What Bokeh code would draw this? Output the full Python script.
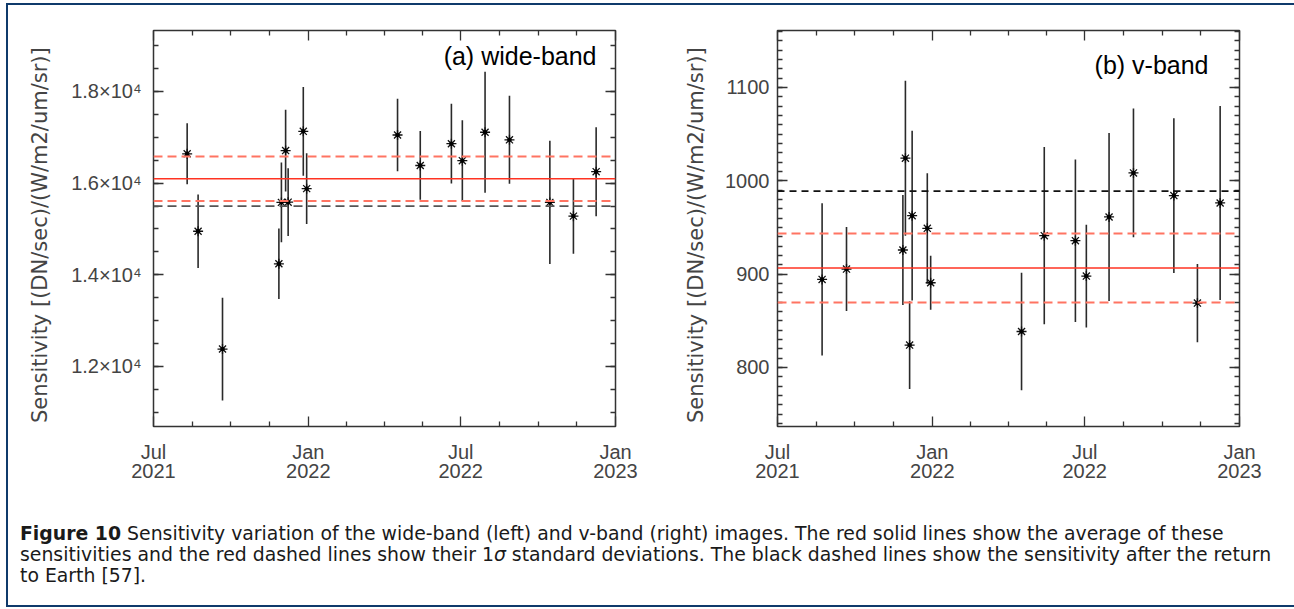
import numpy as np
import pandas as pd
from bokeh.plotting import figure
from bokeh.models import (FixedTicker, DatetimeTickFormatter, LinearAxis, DatetimeAxis,
                          Span, Label, Div, Range1d, CustomJSTickFormatter,
                          ColumnDataSource, Spacer)
from bokeh.layouts import row, column
from bokeh.embed import file_html
from bokeh.resources import INLINE

# ---------------- data ----------------
wide_dates = ["2021-08-10", "2021-08-23", "2021-09-21", "2021-11-27", "2021-11-30",
              "2021-12-05", "2021-12-08", "2021-12-26", "2021-12-30", "2022-04-17",
              "2022-05-14", "2022-06-20", "2022-07-03", "2022-07-30", "2022-08-28",
              "2022-10-15", "2022-11-12", "2022-12-09"]
wide_values = [16640, 14950, 12380, 14240, 15580, 16710, 15585, 17130, 15880, 17050,
               16385, 16860, 16490, 17110, 16945, 15580, 15280, 16250]
wide_errors = [665, 800, 1120, 770, 870, 890, 740, 970, 770, 790,
               750, 870, 880, 1320, 960, 1345, 820, 970]
wide_mean = 16095
wide_sigma = 487
wide_return = 15500

vband_dates = ["2021-08-23", "2021-09-21", "2021-11-27", "2021-11-30", "2021-12-05",
               "2021-12-08", "2021-12-26", "2021-12-30", "2022-04-17", "2022-05-14",
               "2022-06-20", "2022-07-03", "2022-07-30", "2022-08-28", "2022-10-15",
               "2022-11-12", "2022-12-09"]
vband_values = [894.3, 905.4, 925.8, 1024.2, 823.9, 962.6, 949.0, 890.7, 838.5, 941.2,
                935.8, 897.9, 961.2, 1008.4, 984.1, 868.9, 976.2]
vband_errors = [81.5, 45, 59, 83, 47, 91, 59, 29, 63, 95, 87, 55, 90, 69, 83, 42, 104]
vband_mean = 906.5
vband_sigma = 37.0
vband_return = 989

x_tick_dates = ["2021-07-01", "2022-01-01", "2022-07-01", "2023-01-01"]
wide_ticks = [12000, 14000, 16000, 18000]
wide_tick_labels = ["1.2×10⁴", "1.4×10⁴", "1.6×10⁴", "1.8×10⁴"]
vband_ticks = [800, 900, 1000, 1100]
vband_tick_labels = ["800", "900", "1000", "1100"]

y_label = "Sensitivity   [(DN/sec)/(W/m2/um/sr)]"
caption_html = ("<b>Figure 10</b> Sensitivity variation of the wide-band (left) and v-band (right) "
                "images. The red solid lines show the average of these<br>sensitivities and the red "
                "dashed lines show their 1<i>σ</i> standard deviations. The black dashed lines show "
                "the sensitivity after the return<br>to Earth [57].")

# ---------------- styling ----------------
NAVY = "#0f3a6b"
TICK_FONT = "Liberation Sans"
LABEL_COLOR = "#444444"


def ms(d):
    return pd.Timestamp(d).value // 10**6


x_major = [ms(d) for d in x_tick_dates]
x_minor = []
for a, b in zip(x_major[:-1], x_major[1:]):
    x_minor += [a + (b - a) * k / 4 for k in range(1, 4)]


def make_panel(dates, vals, errs, mean, sigma, ret, yr, majors, labels, minor_step,
               title, title_x, title_y, ret_color, ret_dash, mbl, mbr, tick_standoff,
               label_standoff):
    p = figure(frame_width=462, frame_height=396, x_axis_type="datetime",
               x_range=Range1d(pd.Timestamp(x_tick_dates[0]), pd.Timestamp(x_tick_dates[-1])),
               y_range=Range1d(*yr), output_backend="svg", toolbar_location=None,
               min_border_left=mbl, min_border_right=mbr, min_border_top=25,
               min_border_bottom=60)
    p.grid.visible = False
    p.outline_line_color = "#333333"
    p.outline_line_width = 1.5
    p.background_fill_color = "white"
    p.border_fill_color = "white"

    v = np.array(vals, dtype=float)
    e = np.array(errs, dtype=float)
    src = ColumnDataSource(dict(x=pd.to_datetime(dates), y=v, lo=v - e, hi=v + e))

    # reference lines
    p.add_layout(Span(location=ret, dimension="width", line_color=ret_color,
                      line_width=1.8, line_dash=ret_dash))
    p.add_layout(Span(location=mean + sigma, dimension="width", line_color="#ff7462",
                      line_width=2, line_dash="9 5"))
    p.add_layout(Span(location=mean - sigma, dimension="width", line_color="#ff7462",
                      line_width=2, line_dash="9 5"))
    p.add_layout(Span(location=mean, dimension="width", line_color="#ff3322",
                      line_width=1.6))

    p.segment(x0="x", y0="lo", x1="x", y1="hi", source=src, line_color="#2a2a2a",
              line_width=1.6)
    p.scatter(x="x", y="y", source=src, marker="asterisk", size=10, line_color="#111111",
              line_width=1.3)
    p.scatter(x="x", y="y", source=src, marker="circle", size=3.5, fill_color="black",
              line_color="black")

    y_minor = list(np.arange(np.ceil(yr[0] / minor_step) * minor_step, yr[1], minor_step))
    yticker = FixedTicker(ticks=majors, minor_ticks=y_minor)
    xticker = FixedTicker(ticks=x_major, minor_ticks=x_minor)

    month_axis = p.below[0]
    left_axis = p.left[0]
    left_axis.ticker = yticker
    left_axis.major_label_overrides = {t: l for t, l in zip(majors, labels)}
    month_axis.ticker = xticker
    month_axis.formatter = DatetimeTickFormatter(months="%b", years="%b", days="%b")

    empty = CustomJSTickFormatter(code="return ''")
    p.add_layout(LinearAxis(ticker=yticker, formatter=empty), "right")
    p.add_layout(DatetimeAxis(ticker=xticker, formatter=empty), "above")
    year_axis = DatetimeAxis(ticker=FixedTicker(ticks=x_major, minor_ticks=[]),
                             formatter=DatetimeTickFormatter(months="%Y", years="%Y",
                                                             days="%Y"))
    p.add_layout(year_axis, "below")

    for ax in p.axis:
        ax.axis_line_color = None
        ax.major_tick_out = 0
        ax.minor_tick_out = 0
        ax.major_tick_in = 10
        ax.minor_tick_in = 5
        ax.major_tick_line_color = "#333333"
        ax.minor_tick_line_color = "#333333"
        ax.major_tick_line_width = 1.3
        ax.minor_tick_line_width = 1.3
        ax.major_label_text_font = TICK_FONT
        ax.major_label_text_font_size = "20px"
        ax.major_label_text_color = LABEL_COLOR
    year_axis.major_tick_in = 0
    year_axis.minor_tick_in = 0
    year_axis.major_tick_line_color = None
    year_axis.minor_tick_line_color = None
    year_axis.major_label_standoff = -2
    month_axis.major_label_standoff = 14
    left_axis.major_label_standoff = tick_standoff
    left_axis.axis_label = y_label
    left_axis.axis_label_text_font = "DejaVu Sans"
    left_axis.axis_label_text_font_size = "21px"
    left_axis.axis_label_text_font_style = "normal"
    left_axis.axis_label_text_color = LABEL_COLOR
    left_axis.axis_label_standoff = label_standoff

    p.add_layout(Label(x=title_x, y=title_y, x_units="screen", y_units="screen",
                       text=title, text_align="right", text_baseline="alphabetic",
                       text_font="Liberation Sans", text_font_size="25px",
                       text_color="black"))
    return p


p1 = make_panel(wide_dates, wide_values, wide_errors, wide_mean, wide_sigma, wide_return,
                (10690, 19330), wide_ticks, wide_tick_labels, 500,
                "(a) wide-band", 443, 371, "#555555", "9 5", 145, 63, 12, 16)
p2 = make_panel(vband_dates, vband_values, vband_errors, vband_mean, vband_sigma,
                vband_return, (736.7, 1161), vband_ticks, vband_tick_labels, 10,
                "(b) v-band", 431, 362, "#111111", "7 5", 99, 55, 8, 14)

caption = Div(text=("<div style=\"font-family:'DejaVu Sans';font-size:18.85px;"
                    "line-height:21px;padding:37px 0 0 12px;color:#1a1a1a;"
                    "white-space:nowrap\">" + caption_html + "</div>"),
              width=1286, height=119, margin=(0, 0, 0, 0))

top_border = Div(text="", width=1286, height=2, margin=(0, 0, 0, 0),
                 styles={"background-color": NAVY})
bottom_border = Div(text="", width=1286, height=2, margin=(0, 0, 0, 0),
                    styles={"background-color": NAVY})
left_border = Div(text="", width=2, height=604, margin=(0, 0, 0, 0),
                  styles={"background-color": NAVY})

inner = column(top_border, row(p1, p2), caption, bottom_border)
layout = column(Spacer(width=1294, height=3),
                row(Spacer(width=6, height=604), left_border, inner))

open("out.html", "w").write(file_html(layout, INLINE))
